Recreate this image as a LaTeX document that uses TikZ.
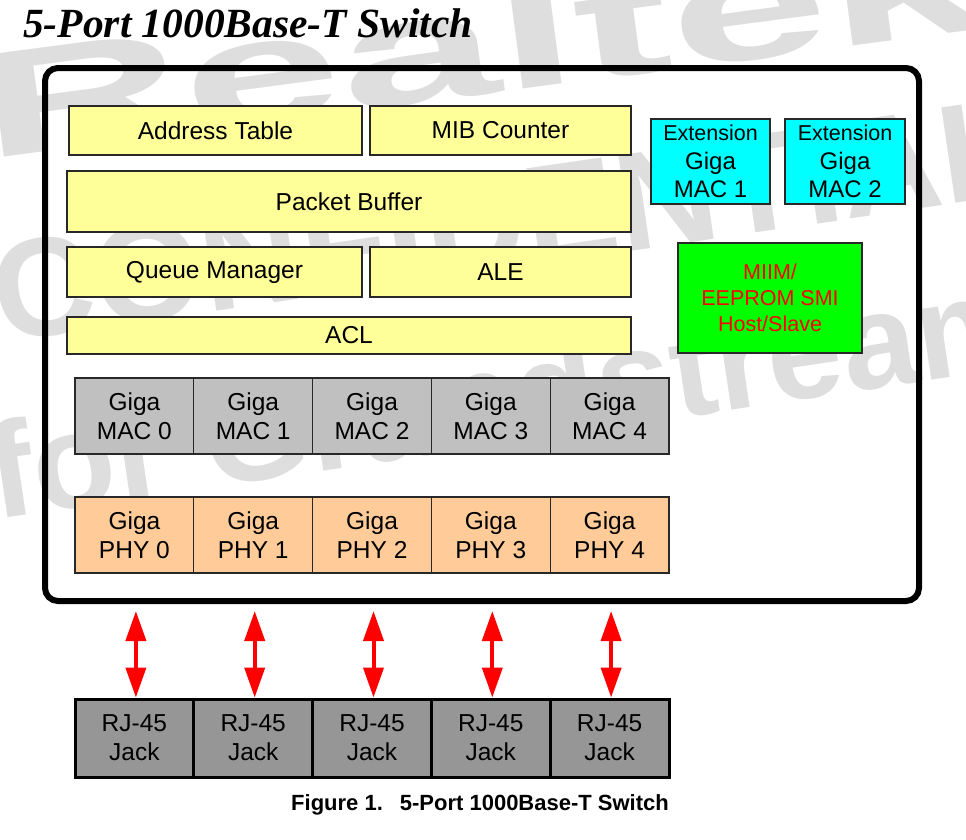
\documentclass[tikz,border=0pt]{standalone}
\usepackage{fontspec}
\setmainfont{Liberation Sans}
\newfontfamily\titlefont{Liberation Serif}
\usetikzlibrary{arrows.meta}
\definecolor{wmgray}{RGB}{222,222,222}
\definecolor{ylw}{RGB}{255,255,153}
\definecolor{cyn}{RGB}{0,255,255}
\definecolor{grn}{RGB}{0,255,0}
\definecolor{macgray}{RGB}{192,192,192}
\definecolor{phyor}{RGB}{255,204,153}
\definecolor{rjgray}{RGB}{150,150,150}
\definecolor{bordr}{RGB}{40,40,40}
\begin{document}
\begin{tikzpicture}[x=1pt,y=-1pt,
  wm/.style={anchor=base west, inner sep=0pt, text=wmgray},
  blk/.style={draw=bordr, line width=1.2pt, inner sep=0pt, align=center,
              font=\fontsize{24.5}{29}\selectfont},
  ybox/.style={blk, fill=ylw},
  cbox/.style={blk, fill=cyn, font=\fontsize{24}{28.5}\selectfont},
  gbox/.style={blk, fill=grn, text=red, font=\fontsize{21.5}{26}\selectfont},
  macbox/.style={blk, fill=macgray, minimum width=118.8pt, minimum height=76pt},
  phybox/.style={blk, fill=phyor, minimum width=118.8pt, minimum height=76pt},
  rjbox/.style={blk, draw=black, line width=3pt, fill=rjgray, minimum width=118.8pt, minimum height=78pt},
  redarrow/.style={draw=red, line width=4pt,
     {Triangle[width=20pt,length=30pt]}-{Triangle[width=20pt,length=30pt]}},
  outerbox/.style={draw=black, line width=6pt, rounded corners=13pt}
]
\useasboundingbox (0,0) rectangle (966,839);
\clip (0,0) rectangle (966,839);
\fill[white] (0,0) rectangle (966,839);

% watermark
\node[wm, rotate=7.5, font=\bfseries\fontsize{150}{150}\selectfont] (wm1) at (-15,160) {\scalebox{1.9}[1]{Realtek}};
\node[wm, rotate=8.3, font=\bfseries\fontsize{140}{140}\selectfont] (wm2) at (0,343) {CONFIDENTIAL};
\node[wm, rotate=8.5, font=\bfseries\fontsize{135}{135}\selectfont] (wm3) at (-5,520) {for Grandstream};

% title
\node[anchor=base west, inner sep=0pt, font=\titlefont\bfseries\itshape\fontsize{41.5}{45}\selectfont] (title) at (23,37) {5-Port 1000Base-T Switch};

% outer box
\draw[outerbox] (45,68) rectangle (919,601);
\coordinate (obox) at (482,68);

% yellow blocks
\node[ybox, minimum width=293pt, minimum height=49pt] (addr) at (215.5,130.5) {Address Table};
\node[ybox, minimum width=261pt, minimum height=49pt] (mib) at (500.5,130.5) {MIB Counter};
\node[ybox, minimum width=564pt, minimum height=61pt] (pbuf) at (349,201.5) {Packet Buffer};
\node[ybox, minimum width=295pt, minimum height=50pt] (qm) at (214.5,272) {Queue Manager};
\node[ybox, minimum width=261pt, minimum height=50pt] (ale) at (500.5,272) {ALE};
\node[ybox, minimum width=564pt, minimum height=37pt] (acl) at (349,335.5) {ACL};

% extension MACs
\node[cbox, minimum width=119pt, minimum height=85pt] (ext1) at (710.5,161.5)
  {{\fontsize{21.5}{28.5}\selectfont Extension}\\Giga\\MAC 1};
\node[cbox, minimum width=120pt, minimum height=85pt] (ext2) at (845,161.5)
  {{\fontsize{21.5}{28.5}\selectfont Extension}\\Giga\\MAC 2};

% MIIM
\node[gbox, minimum width=184pt, minimum height=110pt] (miim) at (770,298)
  {MIIM/\\EEPROM SMI\\Host/Slave};

% MAC / PHY / RJ rows
\foreach \i/\cx in {0/134.4,1/253.2,2/372.0,3/490.8,4/609.6}{
  \node[macbox] (mac\i) at (\cx,416) {Giga\\MAC \i};
  \node[phybox] (phy\i) at (\cx,535) {Giga\\PHY \i};
  \node[rjbox] (rj\i) at (\cx,738) {RJ-45\\Jack};
  \coordinate (t\i) at (\cx+1.5,611);
  \draw[redarrow] (t\i) -- (t\i |- rj\i.north);
}

% caption
\node[anchor=base west, inner sep=0pt, font=\bfseries\fontsize{22}{26}\selectfont] (cap) at (291,810)
  {Figure 1.\hspace{17pt}5-Port 1000Base-T Switch};
\end{tikzpicture}
\end{document}
